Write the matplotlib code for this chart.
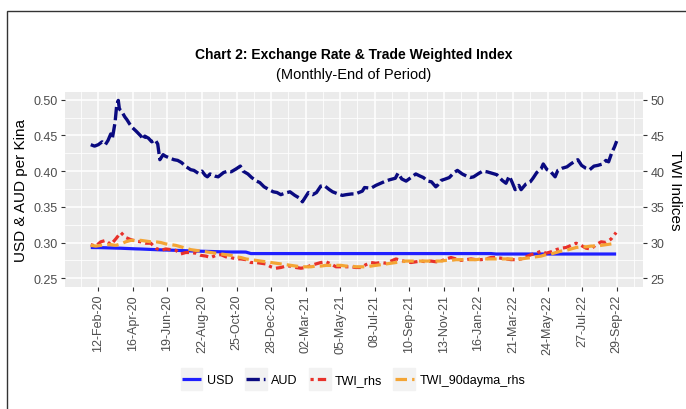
import numpy as np
import pandas as pd
import matplotlib
matplotlib.use("Agg")
import matplotlib.pyplot as plt
from matplotlib.patches import Rectangle

plt.rcParams['font.family'] = ['Liberation Sans', 'DejaVu Sans']

# -----------------------------
# DATA
# -----------------------------
# AUD per Kina, irregular points following the wiggles
aud_dates = [
    "2020-01-29", "2020-02-05", "2020-02-12", "2020-02-19", "2020-02-25", "2020-03-01",
    "2020-03-06", "2020-03-09", "2020-03-14", "2020-03-17", "2020-03-20", "2020-03-22",
    "2020-03-26", "2020-04-01", "2020-04-05", "2020-04-10", "2020-04-15", "2020-04-22",
    "2020-05-01", "2020-05-05", "2020-05-08", "2020-05-15", "2020-05-21", "2020-05-27",
    "2020-06-01", "2020-06-05", "2020-06-11", "2020-06-15", "2020-06-24", "2020-07-01",
    "2020-07-08", "2020-07-15", "2020-07-24", "2020-08-01", "2020-08-07", "2020-08-15",
    "2020-08-22", "2020-08-28", "2020-09-01", "2020-09-06", "2020-09-15", "2020-09-21",
    "2020-10-01", "2020-10-09", "2020-10-15", "2020-10-24", "2020-11-01", "2020-11-06",
    "2020-11-15", "2020-11-22", "2020-12-01", "2020-12-07", "2020-12-15", "2020-12-22",
    "2021-01-01", "2021-01-08", "2021-01-15", "2021-01-22", "2021-02-01", "2021-02-10",
    "2021-02-19", "2021-02-24", "2021-03-02", "2021-03-07", "2021-03-15", "2021-03-22",
    "2021-03-30", "2021-04-05", "2021-04-15", "2021-04-21", "2021-05-01", "2021-05-09",
    "2021-05-16", "2021-05-26", "2021-06-02", "2021-06-15", "2021-06-19", "2021-07-01",
    "2021-07-10", "2021-07-19", "2021-07-28", "2021-08-05", "2021-08-15", "2021-08-20",
    "2021-08-27", "2021-09-04", "2021-09-15", "2021-09-22", "2021-09-30", "2021-10-06",
    "2021-10-14", "2021-10-21", "2021-10-29", "2021-11-01", "2021-11-08", "2021-11-16",
    "2021-11-23", "2021-12-02", "2021-12-08", "2021-12-17", "2021-12-25", "2022-01-01",
    "2022-01-07", "2022-01-15", "2022-01-24", "2022-02-01", "2022-02-10", "2022-02-19",
    "2022-03-01", "2022-03-08", "2022-03-14", "2022-03-19", "2022-03-25", "2022-04-01",
    "2022-04-05", "2022-04-14", "2022-04-22", "2022-04-27", "2022-05-04", "2022-05-12",
    "2022-05-16", "2022-05-23", "2022-05-30", "2022-06-07", "2022-06-12", "2022-06-20",
    "2022-06-29", "2022-07-06", "2022-07-12", "2022-07-19", "2022-07-26", "2022-08-03",
    "2022-08-10", "2022-08-18", "2022-08-25", "2022-09-03", "2022-09-09", "2022-09-14",
    "2022-09-20", "2022-09-25", "2022-09-29",
]
aud = [
    0.437, 0.435, 0.437, 0.441, 0.437, 0.443,
    0.452, 0.446, 0.468, 0.492, 0.499, 0.487,
    0.484, 0.476, 0.472, 0.466, 0.461, 0.456,
    0.449, 0.444, 0.449, 0.446, 0.441, 0.444,
    0.438, 0.416, 0.423, 0.421, 0.418, 0.416,
    0.415, 0.412, 0.406, 0.402, 0.401, 0.397,
    0.400, 0.394, 0.392, 0.396, 0.393, 0.392,
    0.398, 0.400, 0.399, 0.403, 0.407, 0.400,
    0.396, 0.391, 0.386, 0.384, 0.378, 0.375,
    0.371, 0.370, 0.367, 0.369, 0.371, 0.366,
    0.362, 0.357, 0.364, 0.370, 0.367, 0.370,
    0.379, 0.380, 0.374, 0.371, 0.368, 0.366,
    0.367, 0.368, 0.368, 0.372, 0.377, 0.376,
    0.380, 0.383, 0.386, 0.388, 0.390, 0.397,
    0.389, 0.386, 0.392, 0.396, 0.393, 0.391,
    0.386, 0.385, 0.378, 0.380, 0.387, 0.389,
    0.391, 0.398, 0.401, 0.396, 0.393, 0.391,
    0.392, 0.396, 0.400, 0.399, 0.397, 0.395,
    0.387, 0.383, 0.393, 0.385, 0.374, 0.380,
    0.374, 0.382, 0.385, 0.390, 0.398, 0.403,
    0.410, 0.402, 0.399, 0.392, 0.401, 0.404,
    0.406, 0.410, 0.413, 0.416, 0.408, 0.404,
    0.402, 0.407, 0.408, 0.410, 0.415, 0.413,
    0.426, 0.434, 0.442,
]

# USD, TWI and TWI 90-day MA share one evenly spaced date grid (TWI shown /100 on left scale)
usd = [
    0.2930, 0.2929, 0.2928, 0.2926, 0.2924, 0.2922, 0.2920, 0.2917, 0.2914, 0.2911,
    0.2909, 0.2906, 0.2903, 0.2900, 0.2897, 0.2895, 0.2893, 0.2890, 0.2888, 0.2885,
    0.2882, 0.2880, 0.2878, 0.2876, 0.2874, 0.2872, 0.2870, 0.2868, 0.2867, 0.2867,
    0.2867, 0.2866, 0.2845, 0.2845, 0.2845, 0.2845, 0.2845, 0.2845, 0.2845, 0.2845,
    0.2845, 0.2845, 0.2845, 0.2845, 0.2845, 0.2845, 0.2845, 0.2845, 0.2845, 0.2845,
    0.2845, 0.2845, 0.2845, 0.2845, 0.2845, 0.2845, 0.2845, 0.2845, 0.2845, 0.2845,
    0.2845, 0.2845, 0.2845, 0.2845, 0.2845, 0.2845, 0.2845, 0.2845, 0.2845, 0.2845,
    0.2845, 0.2845, 0.2845, 0.2845, 0.2845, 0.2845, 0.2845, 0.2845, 0.2845, 0.2845,
    0.2845, 0.2839, 0.2839, 0.2839, 0.2839, 0.2839, 0.2839, 0.2839, 0.2839, 0.2839,
    0.2839, 0.2839, 0.2839, 0.2839, 0.2839, 0.2839, 0.2839, 0.2839, 0.2839, 0.2839,
    0.2839, 0.2839, 0.2839, 0.2839, 0.2839, 0.2839,
]
twi = [
    29.7, 29.5, 30.1, 30.3, 29.7, 30.5, 31.4, 30.7, 30.4, 30.2,
    30.1, 29.9, 29.9, 29.2, 28.9, 29.1, 29.0, 28.9, 28.4, 28.6,
    28.6, 28.5, 28.2, 28.1, 27.9, 28.2, 28.3, 28.0, 27.9, 27.7,
    27.7, 27.6, 27.2, 27.2, 27.1, 27.0, 26.6, 26.4, 26.5, 26.7,
    26.7, 26.5, 26.4, 26.5, 26.8, 27.0, 27.2, 27.3, 27.0, 26.6,
    26.6, 26.6, 26.6, 26.5, 26.5, 26.9, 27.2, 27.1, 27.2, 27.1,
    27.4, 27.7, 27.5, 27.3, 27.2, 27.3, 27.4, 27.3, 27.4, 27.3,
    27.4, 27.7, 27.9, 27.7, 27.5, 27.6, 27.7, 27.6, 27.6, 27.7,
    27.9, 27.9, 27.8, 27.7, 27.6, 27.6, 27.7, 28.0, 28.3, 28.5,
    28.8, 28.5, 28.7, 29.0, 29.2, 29.3, 29.6, 29.9, 29.6, 29.2,
    29.1, 29.7, 30.1, 30.0, 30.5, 31.4,
]
twi_ma = [
    29.6, 29.5, 29.6, 29.7, 29.7, 29.6, 29.8, 30.1, 30.3, 30.3,
    30.3, 30.2, 30.1, 30.1, 30.0, 29.8, 29.7, 29.6, 29.4, 29.2,
    29.0, 28.9, 28.8, 28.7, 28.6, 28.5, 28.4, 28.3, 28.2, 28.0,
    27.9, 27.7, 27.6, 27.5, 27.4, 27.3, 27.2, 27.1, 27.0, 26.9,
    26.8, 26.7, 26.6, 26.6, 26.6, 26.7, 26.7, 26.8, 26.8, 26.8,
    26.8, 26.7, 26.7, 26.6, 26.6, 26.6, 26.7, 26.8, 26.9, 27.0,
    27.1, 27.2, 27.3, 27.4, 27.4, 27.4, 27.4, 27.4, 27.4, 27.4,
    27.4, 27.5, 27.5, 27.6, 27.6, 27.6, 27.6, 27.6, 27.7, 27.7,
    27.7, 27.7, 27.7, 27.7, 27.7, 27.7, 27.7, 27.8, 27.9, 28.0,
    28.1, 28.3, 28.4, 28.6, 28.8, 28.9, 29.1, 29.3, 29.4, 29.4,
    29.5, 29.5, 29.6, 29.7, 29.8, 29.9,
]
grid_dates = pd.date_range("2020-01-29", "2022-09-28", periods=len(twi))

tick_dates = ["2020-02-12", "2020-04-16", "2020-06-19", "2020-08-22", "2020-10-25",
              "2020-12-28", "2021-03-02", "2021-05-05", "2021-07-08", "2021-09-10",
              "2021-11-13", "2022-01-16", "2022-03-21", "2022-05-24", "2022-07-27",
              "2022-09-29"]
tick_labels = ["12-Feb-20", "16-Apr-20", "19-Jun-20", "22-Aug-20", "25-Oct-20",
               "28-Dec-20", "02-Mar-21", "05-May-21", "08-Jul-21", "10-Sep-21",
               "13-Nov-21", "16-Jan-22", "21-Mar-22", "24-May-22", "27-Jul-22",
               "29-Sep-22"]

# -----------------------------
# FIGURE
# -----------------------------
W, H = 686, 410
fig = plt.figure(figsize=(W / 100, H / 100), dpi=100)
ax = fig.add_axes([65 / W, 1 - 288 / H, (643.3 - 65) / W, (288 - 92.7) / H])
ax.set_facecolor('#EBEBEB')
for s in ax.spines.values():
    s.set_visible(False)

aud_x = pd.to_datetime(aud_dates)
ax.plot(grid_dates, usd, color='#1F1FFF', lw=2.3, solid_capstyle='butt', label='USD', zorder=3)
ax.plot(aud_x, aud, color='#0A0A80', lw=2.4, dashes=(4, 1.2), label='AUD', zorder=3)
ax.plot(grid_dates, np.array(twi) / 100, color='#E8312A', lw=2.3,
        dashes=(1, 1.3, 2.6, 1.3), label='TWI_rhs', zorder=3)
ax.plot(grid_dates, np.array(twi_ma) / 100, color='#F4A535', lw=2.3,
        dashes=(3.6, 1.6), label='TWI_90dayma_rhs', zorder=3)

# axes ranges
t0 = pd.Timestamp(tick_dates[0])
ax.set_xlim(t0 + pd.Timedelta(days=-61.7), t0 + pd.Timedelta(days=1009.3))
ax.set_ylim(0.2377, 0.5112)

major = pd.to_datetime(tick_dates)
ax.set_xticks(major)
ax.set_xticklabels(tick_labels, rotation=90)
step = major[1] - major[0]
minor = [major[0] - step / 2] + [a + (b - a) / 2 for a, b in zip(major[:-1], major[1:])] + [major[-1] + step / 2]
ax.set_xticks(minor, minor=True)
ax.set_yticks([0.25, 0.30, 0.35, 0.40, 0.45, 0.50])
ax.set_yticklabels(["0.25", "0.30", "0.35", "0.40", "0.45", "0.50"])
ax.set_yticks([0.275, 0.325, 0.375, 0.425, 0.475], minor=True)

ax.grid(True, which='major', color='white', lw=1.1)
ax.grid(True, which='minor', color='white', lw=0.55)
ax.set_axisbelow(True)
ax.tick_params(which='major', length=3, width=0.8, color='#333333', labelcolor='#4D4D4D',
               labelsize=9, pad=2)
ax.tick_params(which='minor', length=0)

ax.set_ylabel("USD & AUD per Kina", fontsize=11, labelpad=4)

sec = ax.secondary_yaxis('right', functions=(lambda v: v * 100, lambda v: v / 100))
sec.set_yticks([25, 30, 35, 40, 45, 50])
sec.tick_params(length=3, width=0.8, color='#333333', labelcolor='#4D4D4D', labelsize=9, pad=2)
for s in sec.spines.values():
    s.set_visible(False)
sec.set_ylabel("TWI Indices", fontsize=11, rotation=270, labelpad=13)

fig.text(354 / W, 1 - 55 / H, "Chart 2: Exchange Rate & Trade Weighted Index",
         ha='center', va='center', fontsize=10, fontweight='bold')
fig.text(354 / W, 1 - 75 / H, "(Monthly-End of Period)", ha='center', va='center', fontsize=10.5)

leg = fig.legend(loc='center', bbox_to_anchor=(354 / W, 1 - 381 / H), ncol=4, frameon=False,
                 fontsize=9, handlelength=1.5, handletextpad=0.5, columnspacing=1.0)

# grey key backgrounds like ggplot
fig.canvas.draw()
r = fig.canvas.get_renderer()
for h in leg.legend_handles:
    bb = h.get_window_extent(r)
    cx, cy = (bb.x0 + bb.x1) / 2, (bb.y0 + bb.y1) / 2
    fig.patches.append(Rectangle(((cx - 11) / W, (cy - 11) / H), 22 / W, 22 / H,
                                 transform=fig.transFigure, color='#F2F2F2', zorder=1))

# outer frame
fig.patches.append(Rectangle((7.3 / W, -0.1), 1.2, 1 - 12.3 / H + 0.1, transform=fig.transFigure,
                             fill=False, ec='#333333', lw=1.0, clip_on=False))

fig.savefig("out.png", dpi=100)
